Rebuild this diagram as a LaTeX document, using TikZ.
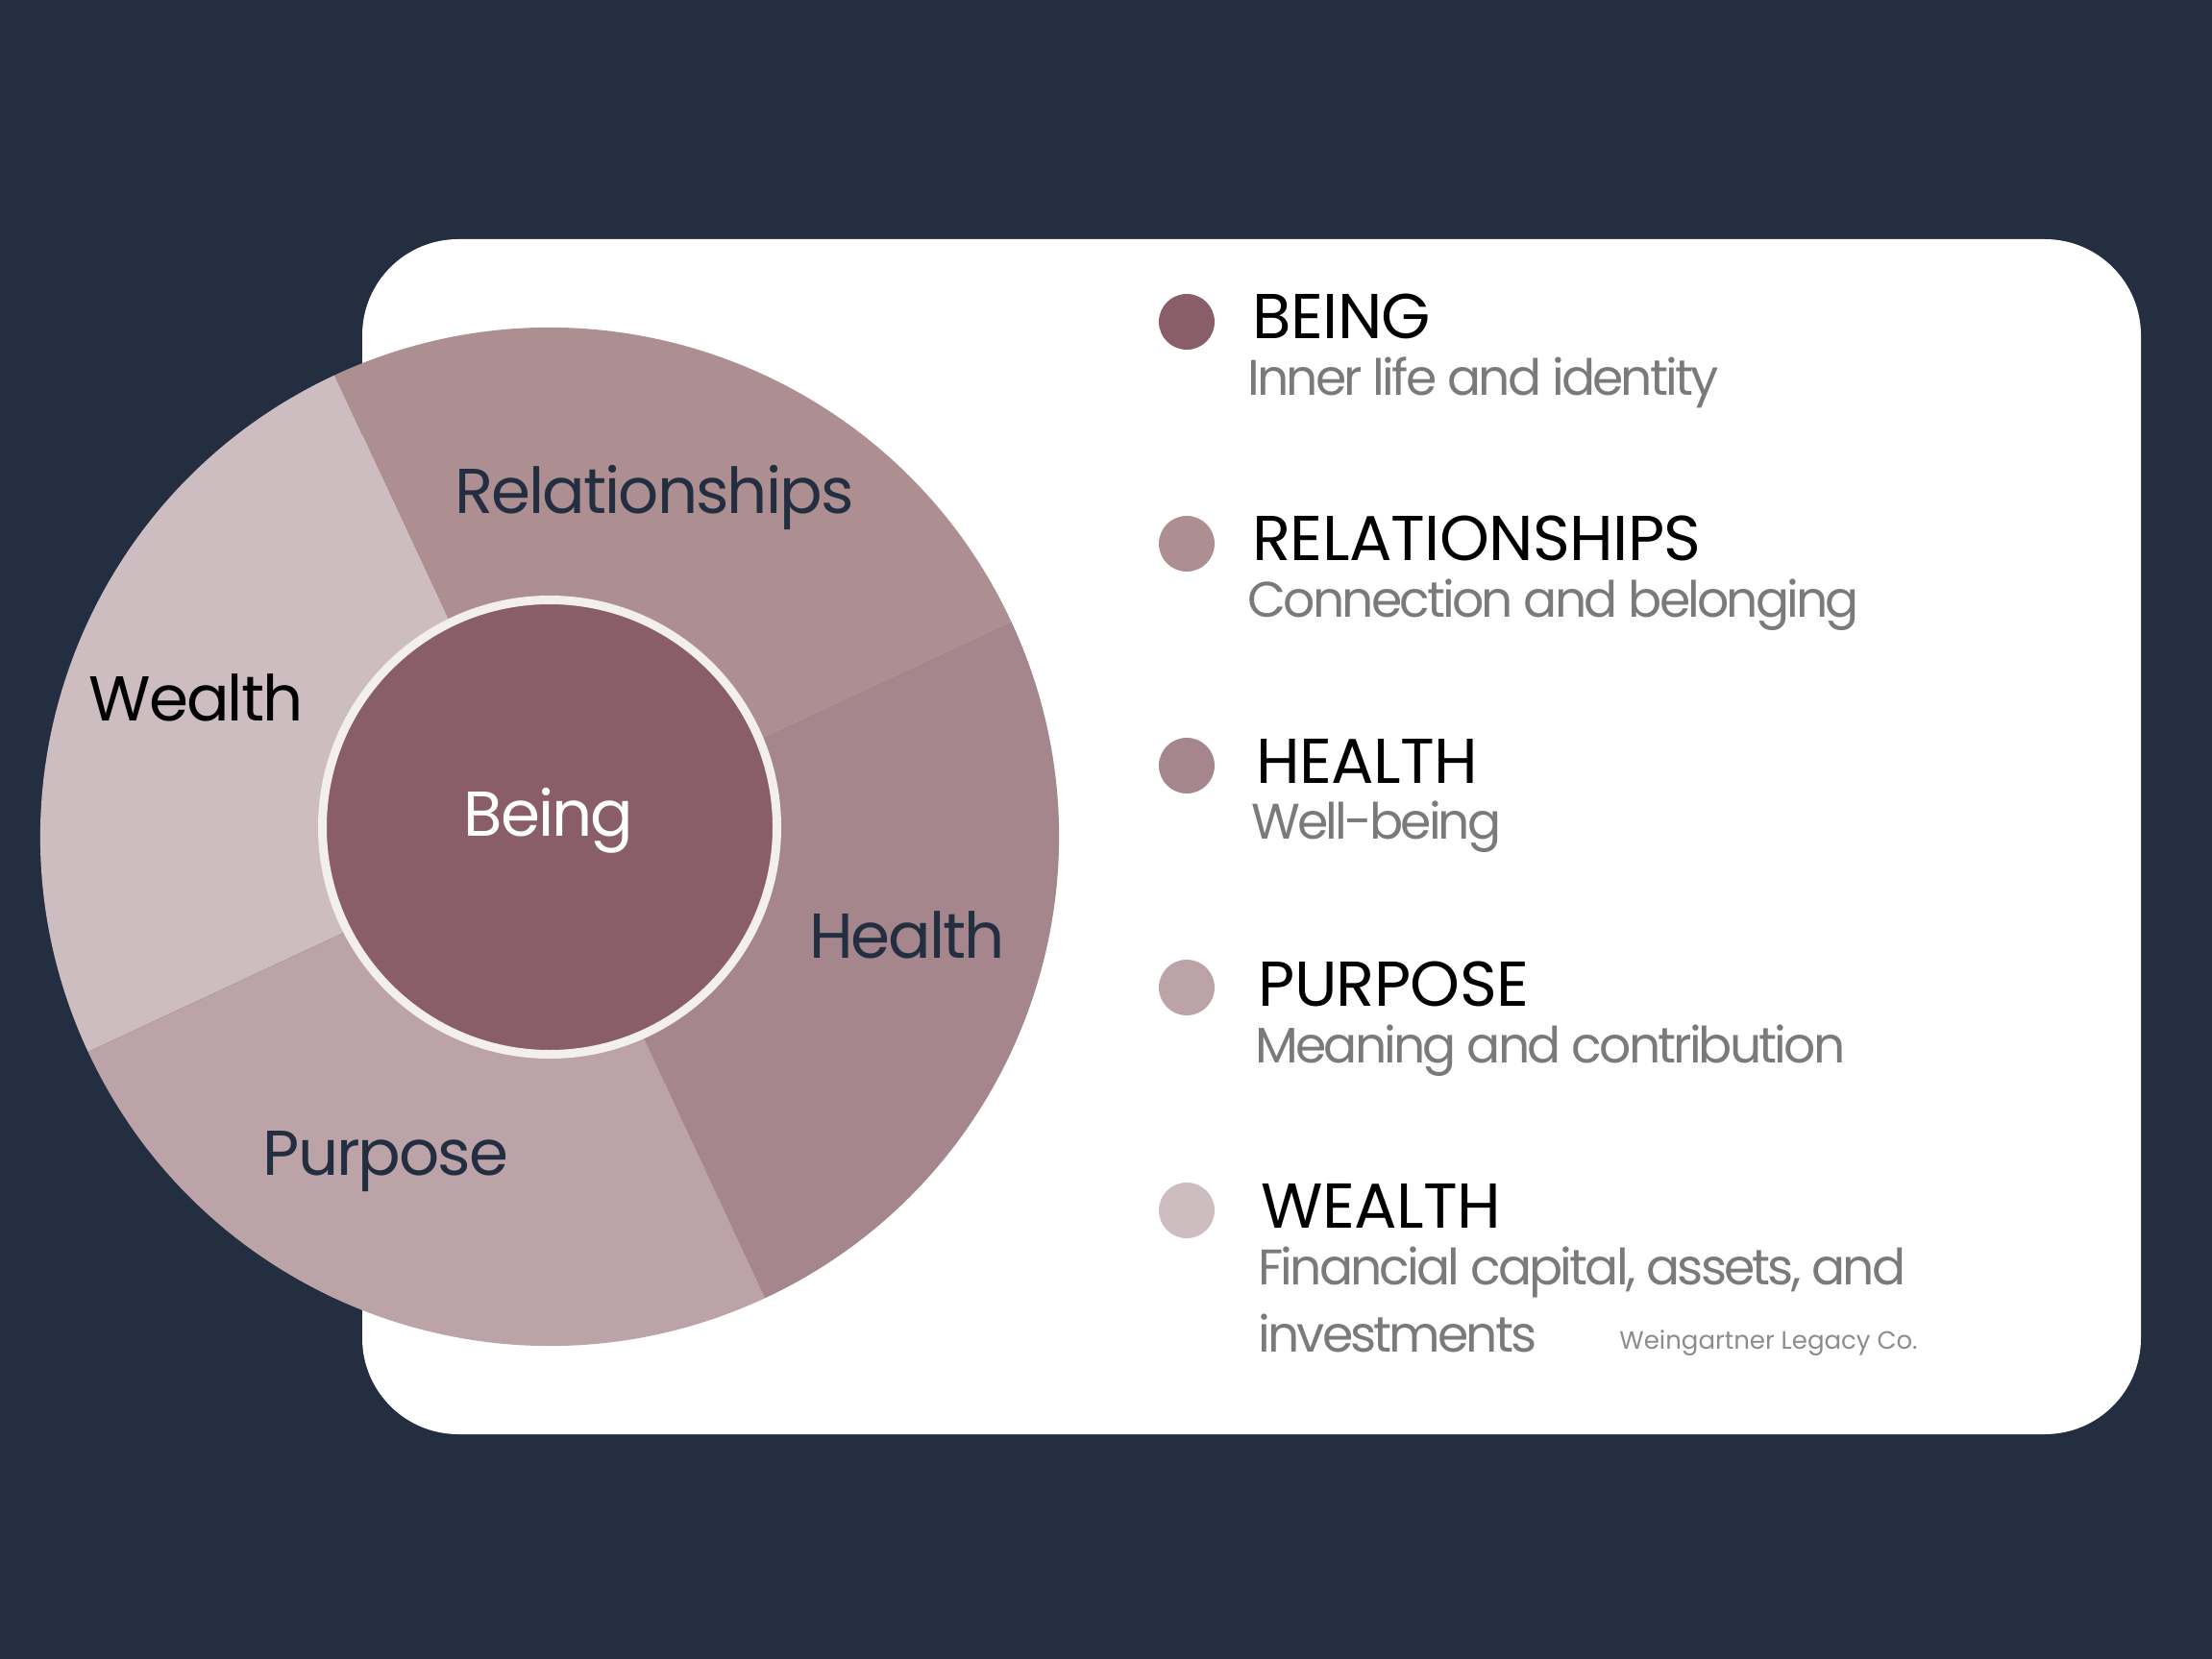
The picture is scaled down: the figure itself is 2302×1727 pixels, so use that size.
\documentclass[tikz,border=0pt]{standalone}
\usepackage{fontspec}
\setmainfont{Poppins}
\newfontfamily\subfont[LetterSpace=-5.5]{Poppins}
\newfontfamily\wheelfont[LetterSpace=-3]{Poppins}
\newfontfamily\titlefont[LetterSpace=-1]{Poppins}
\definecolor{bgnavy}{HTML}{232F40}
\definecolor{cbeing}{HTML}{8A5E69}
\definecolor{crel}{HTML}{AD8F91}
\definecolor{chealth}{HTML}{A4868C}
\definecolor{cpurp}{HTML}{BBA3A8}
\definecolor{cwealth}{HTML}{CDBCC0}
\definecolor{cring}{HTML}{F3EFEC}
\definecolor{subgray}{HTML}{7A7A7A}
\definecolor{markgray}{HTML}{8C8C8C}
\begin{document}
\begin{tikzpicture}[x=0.5pt,y=0.5pt,
  wheellabel/.style={anchor=base,inner sep=0pt,font=\wheelfont\fontsize{33pt}{40pt}\selectfont,text=bgnavy},
  legtitle/.style={anchor=base west,inner sep=0pt,font=\titlefont\fontsize{33pt}{40pt}\selectfont,text=black},
  legsub/.style={anchor=base west,inner sep=0pt,font=\subfont\fontsize{26pt}{32pt}\selectfont,text=subgray},
  legdot/.style={circle,minimum size=29pt,inner sep=0pt}]
\useasboundingbox (0,0) rectangle (2302,-1727);
\fill[bgnavy] (0,0) rectangle (2302,-1727);
\fill[white,rounded corners=50pt] (377,-249) rectangle (2228,-1493);
% wheel
\coordinate (wc) at (572,-871);
\fill[crel] (wc) -- ++(25:530) arc[start angle=25,end angle=115,radius=530] -- cycle;
\fill[cwealth] (wc) -- ++(115:530) arc[start angle=115,end angle=205,radius=530] -- cycle;
\fill[cpurp] (wc) -- ++(205:530) arc[start angle=205,end angle=295,radius=530] -- cycle;
\fill[chealth] (wc) -- ++(295:530) arc[start angle=295,end angle=385,radius=530] -- cycle;
\node[circle,fill=cbeing,draw=cring,line width=4.5pt,minimum size=236.5pt,inner sep=0pt] (core) at (572,-861) {};
\node[wheellabel] (lrel) at (681,-535) {Relationships};
\node[wheellabel,text=black] (lwealth) at (204,-750) {Wealth};
\node[wheellabel,text=white] (lbeing) at (571,-870) {Being};
\node[wheellabel] (lhealth) at (944,-997) {Health};
\node[wheellabel] (lpurp) at (401.5,-1223) {Purpose};
% legend
\node[legdot,fill=cbeing] (d1) at (1235,-335) {};
\node[legdot,fill=crel] (d2) at (1235,-566) {};
\node[legdot,fill=chealth] (d3) at (1235,-797) {};
\node[legdot,fill=cpurp] (d4) at (1235,-1028) {};
\node[legdot,fill=cwealth] (d5) at (1235,-1260) {};
\node[legtitle] (t1) at (1303,-353) {BEING};
\node[legtitle] (t2) at (1303,-583) {RELATIONSHIPS};
\node[legtitle] (t3) at (1307,-815) {HEALTH};
\node[legtitle] (t4) at (1309,-1047) {PURPOSE};
\node[legtitle] (t5) at (1312,-1278) {WEALTH};
\node[legsub] (s1) at (1298,-412) {Inner life and identity};
\node[legsub] (s2) at (1298,-642) {Connection and belonging};
\node[legsub] (s3) at (1302,-873) {Well-being};
\node[legsub] (s4) at (1306,-1106) {Meaning and contribution};
\node[legsub] (s5) at (1309,-1337) {Financial capital, assets, and};
\node[legsub] (s6) at (1309,-1407) {investments};
\node[anchor=base west,inner sep=0pt,font=\fontsize{13pt}{15pt}\selectfont,text=markgray] (mark) at (1685,-1404) {Weingartner Legacy Co.};
\end{tikzpicture}
\end{document}
